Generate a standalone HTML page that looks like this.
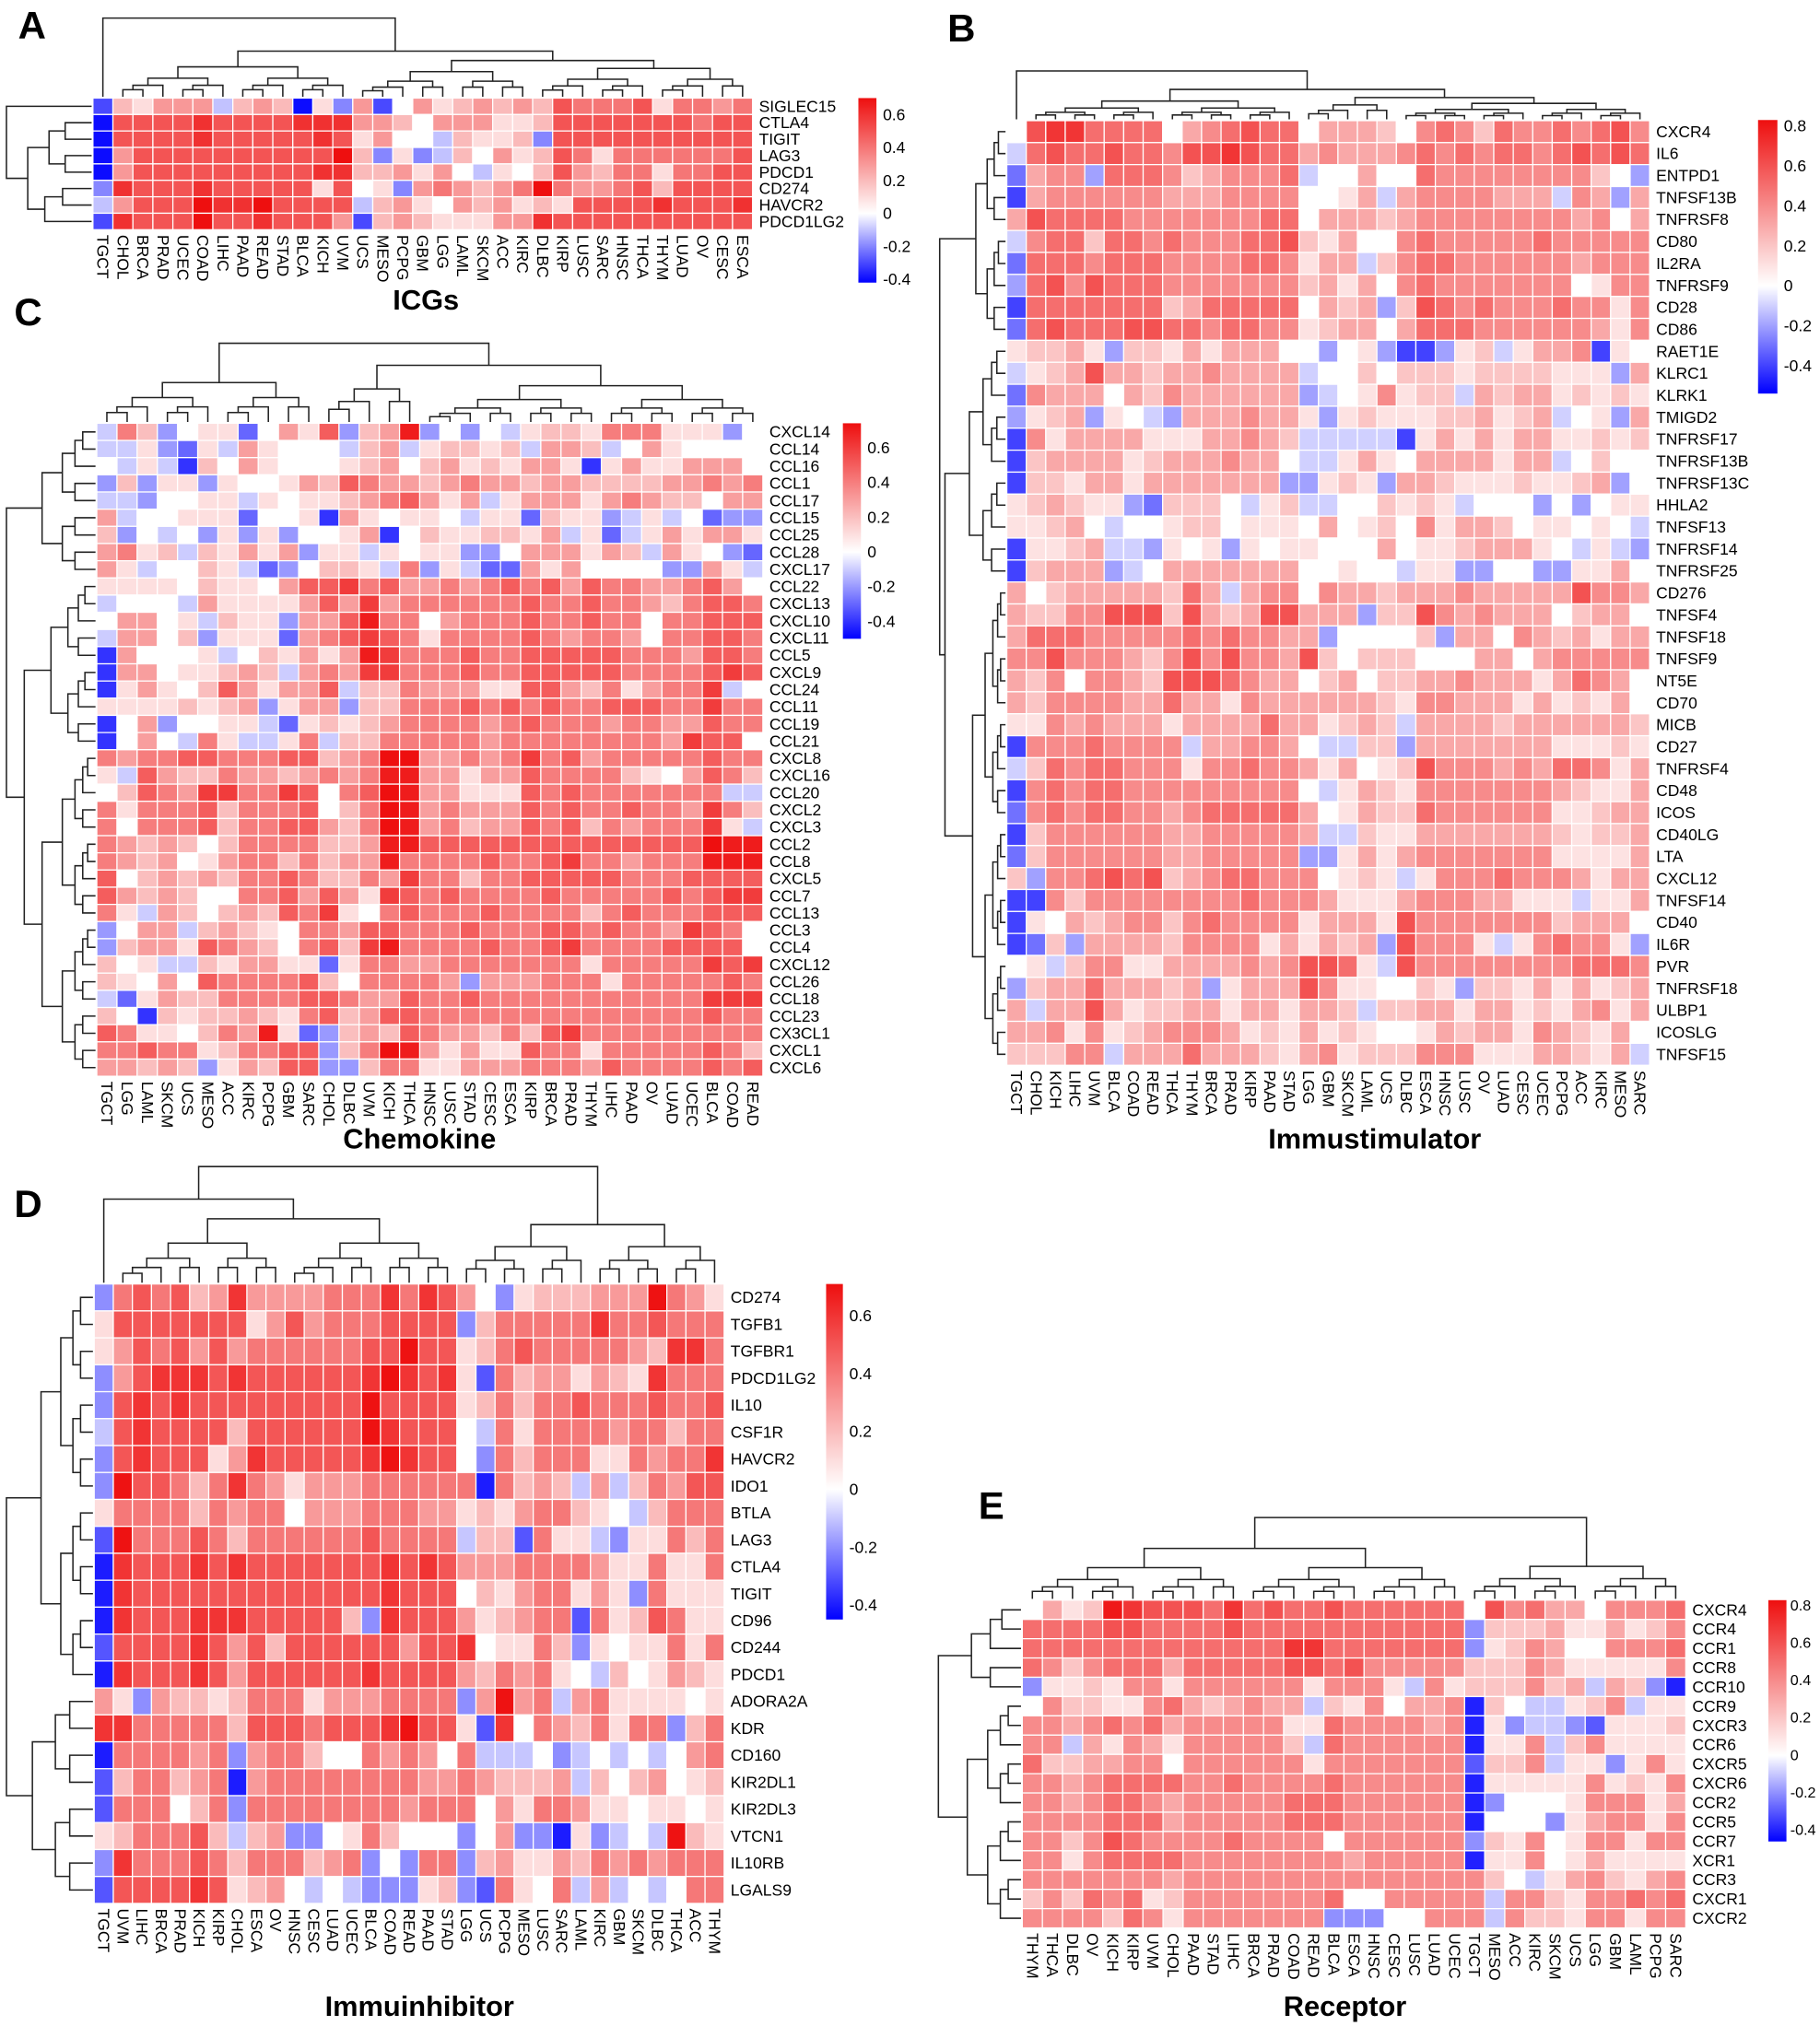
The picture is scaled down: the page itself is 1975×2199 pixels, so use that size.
<!DOCTYPE html>
<html><head><meta charset="utf-8"><style>
html,body{margin:0;padding:0;background:#fff;}
svg{display:block;font-family:"Liberation Sans",Arial,sans-serif;}
</style></head><body>
<svg id="fig" xmlns="http://www.w3.org/2000/svg" width="1975" height="2199" viewBox="0 0 1410 1570" preserveAspectRatio="none">
<rect x="0" y="0" width="1410" height="1570" fill="#fff"/>
<text x="14" y="30" font-size="30" font-weight="bold">A</text>
<text x="734" y="32" font-size="30" font-weight="bold">B</text>
<text x="11" y="252" font-size="30" font-weight="bold">C</text>
<text x="11" y="943" font-size="30" font-weight="bold">D</text>
<text x="758" y="1177" font-size="30" font-weight="bold">E</text>
<text x="330" y="240" font-size="22" font-weight="bold" text-anchor="middle">ICGs</text>
<text x="325" y="890" font-size="22" font-weight="bold" text-anchor="middle">Chemokine</text>
<text x="1065" y="890" font-size="22" font-weight="bold" text-anchor="middle">Immustimulator</text>
<text x="325" y="1562" font-size="22" font-weight="bold" text-anchor="middle">Immuinhibitor</text>
<text x="1042" y="1562" font-size="22" font-weight="bold" text-anchor="middle">Receptor</text>
</svg>
<script>
// value code: a=-0.4 b=-0.3 c=-0.2 d=-0.1 e=0 f=0.1 g=0.2 h=0.3 i=0.4 j=0.5 k=0.6 l=0.7 m=0.8
const colsA = ["TGCT","CHOL","BRCA","PRAD","UCEC","COAD","LIHC","PAAD","READ","STAD","BLCA","KICH","UVM","UCS","MESO","PCPG","GBM","LGG","LAML","SKCM","ACC","KIRC","DLBC","KIRP","LUSC","SARC","HNSC","THCA","THYM","LUAD","OV","CESC","ESCA"];
const rowsA = ["SIGLEC15","CTLA4","TIGIT","LAG3","PDCD1","CD274","HAVCR2","PDCD1LG2"];
const valsA = [
"bgfhhhdghgafchbehfghghgjiiijfiihi",
"ajjjjkjjjjkkkhhgehhhffgjjjjjjjijj",
"ajjjjkjjjjjkjfheedgffgcjjjjjjjjjj",
"ahjjjjjjjjjjlgcfcdgehfgjifiiiiiij",
"ahjjjjjjjjjkkgghfhedfegjhgiifiijj",
"ckjjjkjjjjjfjefchihghimihhijgjjjj",
"dhjjjlkkljjjjdghfehghfgfjjjjkjjjk",
"bkjjjljjkjjjhbghgfffhhkjjjjjjjjjj"];
const ticksA = [0.6,0.4,0.2,0,-0.2,-0.4];

const colsB = ["TGCT","CHOL","KICH","LIHC","UVM","BLCA","COAD","READ","THCA","THYM","BRCA","PRAD","KIRP","PAAD","STAD","LGG","GBM","SKCM","LAML","UCS","DLBC","ESCA","HNSC","LUSC","OV","LUAD","CESC","UCEC","PCPG","ACC","KIRC","MESO","SARC"];
const rowsB = ["CXCR4","IL6","ENTPD1","TNFSF13B","TNFRSF8","CD80","IL2RA","TNFRSF9","CD28","CD86","RAET1E","KLRC1","KLRK1","TMIGD2","TNFRSF17","TNFRSF13B","TNFRSF13C","HHLA2","TNFSF13","TNFRSF14","TNFRSF25","CD276","TNFSF4","TNFSF18","TNFSF9","NT5E","CD70","MICB","CD27","TNFRSF4","CD48","ICOS","CD40LG","LTA","CXCL12","TNFSF14","CD40","IL6R","PVR","TNFRSF18","ULBP1","ICOSLG","TNFSF15"];
const valsB = [
"eklljjjjehijkjjehhhgeijigjiijijki",
"djkjjkjjikklkjjhihhhijijijjijkjkj",
"bhiicjjjighiiijdeeheejiiiiiiiigec",
"ahiiiiiihhhiiiieefhdhiiiihhhdihch",
"hkjjjjiiiiiiijjehhhghiiiiiiiihieh",
"dijjgjjijiiijjkgfheeijiiiiijiiiii",
"bjjjijjjiiiijjifhhdgijjiiiiiihiii",
"cjkikjjjiiiiiiighfheijiiiiiiiefii",
"ajjjjjjjghjjjjjehghcgkjijiiijiifi",
"bjkjjjkkjjijjiifghhehjjjiiiiiihfi",
"fgghfcggfhfhhheecefcaacfgdfhhiaf",
"dfghkhhghhihhhhdeegegggfggggfffch",
"bihhhehgihhhhhhcdefifggdhghhfgfgf",
"cfghcfedchhhihhfcfgfffgghfghdefch",
"aifhhhhfffhhihgdddddafhfhfhhffgfg",
"aghhhhfghhhihheddfhfehhhhfhhdege",
"aggfhhfhhhhhhhccfgfchhgfffgffghc",
"fghgffcbgggedfgddeegfgfdeeececeff",
"ffghedeefggefffehefgeifhhgeffefed",
"affghddcfefcfeffeeeheffghhhfedfdc",
"aghhhcdehhhhhhheefeedffcceeccffhe",
"heghhhhhgjhdhiieihhghhhihhhhhkiih",
"hggiikkkgkhghkkhhhcggkihihhheghhe",
"hjjjiiiiijijiihhceeeegchheihghfhh",
"iikiiihgikikiihkgegggeeehhehiiiii",
"hgieiihgkkkjihhegheggh hihhhfhjih".replace(" ",""),
"hgiiiihhjhhfihhhhhhgfiihhhfhfgfh",
"ffihihhhfhhhhjhhfghgdhhhhghhhhhhg",
"aiiijiiiidhhiiheddggchhhhhhhfffgf",
"dgjijjiiifiijiihfhefgkiiihihjjifh",
"aijijjiiiiiiiiiedfhgfiiiiiiihgffh",
"bijijjiihijjjjjhefhggjiiiiiiffghh",
"agiiiiiihhiiiiihddgffhhhhhhhgfggh",
"bgiiiiiihhiiiiiccfhfhiiiiiiiffffh",
"gciijkjkghijjiiiefgfdfiiijiiihfhh",
"aaigiiiiiiiijiiihfffhiiihhfffdffh",
"afehghiigijiiiifhhhfkiiiiiiighhh",
"abgchhhhgiiiifhfhghckiiifdfijiifc",
"efdgiiffhhhhihikkjfdkiiiiiiiijjji",
"cghhjhhhghcfhhhkiffeegfcggfhfhfgh",
"hdhhkhfgghhfhhfhhgdgghhfhhfgfhifh",
"hhififghiiihfgfhfgfeefhghhfihgfh",
"gggiidhhhjhhhgfhifgggiiifffhhgfhd"];
const ticksB = [0.8,0.6,0.4,0.2,0,-0.2,-0.4];

const colsC = ["TGCT","LGG","LAML","SKCM","UCS","MESO","ACC","KIRC","PCPG","GBM","SARC","CHOL","DLBC","UVM","KICH","THCA","HNSC","LUSC","STAD","CESC","ESCA","KIRP","BRCA","PRAD","THYM","LIHC","PAAD","OV","LUAD","UCEC","BLCA","COAD","READ"];
const rowsC = ["CXCL14","CCL14","CCL16","CCL1","CCL17","CCL15","CCL25","CCL28","CXCL17","CCL22","CXCL13","CXCL10","CXCL11","CCL5","CXCL9","CCL24","CCL11","CCL19","CCL21","CXCL8","CXCL16","CCL20","CXCL2","CXCL3","CCL2","CCL8","CXCL5","CCL7","CCL13","CCL3","CCL4","CXCL12","CCL26","CCL18","CCL23","CX3CL1","CXCL1","CXCL6"];
const valsC = [
"digceffbehfjcghlcecedfggfiiifffce",
"ddfcbfdhfeeedghdfggfgdhhgdehfeeee",
"edfdagehfeeefgheghfgfhhfafhffhhh",
"cgcffcfeefhgjihhghihhghhgggghhihi",
"ddceeffdfeffghijhfhdfhhhfhihggehh",
"hdeefffbeefahfeffedffbgffcdfdebcc",
"gcedecfcfceefhaegffggfhdfbdfhfhhf",
"hifgdgfhfhcffdfeffccehhhfhgdhfecb",
"hfdeegfdbceggfdicfdbbhfheeeecchfde",
"ffffegffehjjkijhhihijijhjiihhijh",
"deeedhffffhjhkhiiiiiijiijiihgijji",
"ehhefdgffchhjliiehiiijiijiieiijjj",
"dhhegcfffbhijkjifiiiijihiiheiijji",
"aheeefdegfhfhlkiiijiijjjjjiiihjji",
"ahheffghgdhihkkiiijiijjjjjiiiijkj",
"afhfegjhfhhjdggihhhffjjhgifhiikde",
"ffffgfghcfhhcggiiijijijiijjjiikii",
"aehceeffdbfgfghiiiihijiiihiihhjii",
"aehedifddfidggiiiiihiiiiiiiihkjj",
"ihiijjiiijjghimmhhihikijhiiiiijii",
"fdjhggihhghihillhhfhhjiiiigfehjig",
"egjihkkiikjeijmlhhfffjijiiiiiiidd",
"ifiiijgiiijegimlhihhhjijiijiihkig",
"ieiiijgiijjhgimlhighhjijgihiiikfd",
"ihghgegiiiigghlljjjjjjjjjjjjjjmll",
"ihghefhiigighhliiiijiijkiihiiilll",
"jeghghgiijiggihkiigiijjjjjiiijjjj",
"jhghgeeiijhjhfkjijiiiijiiiiijijkkk",
"ifdhgeghgjikfeijiiijiiiigijiiijjj",
"cehhdghgfeiihjjiiijiiijjijiihkjie",
"cghhfjihgeijgkliiiijiijkiiiijjjj",
"gefddgfhhffbfiihhiiiiiiifiiiiikjk",
"gfehejiiiijgeiiiihchhhiiifiiiiijii",
"dbfhggiiiijjihhjiijiiiiiiiiiiikkk",
"geagfgghgfijghjjiiiiiiiiiiiiiijii",
"jiffegihlfbcghgjihhgigjkiiiiiiiii",
"iijiifgiijjcgimlhfhffjiifiiiiijig",
"hhghgcfhgjjccgiiffhhhiiihjiiiijij"];
const ticksC = [0.6,0.4,0.2,0,-0.2,-0.4];

const colsD = ["TGCT","UVM","LIHC","BRCA","PRAD","KICH","KIRP","CHOL","ESCA","OV","HNSC","CESC","LUAD","UCEC","BLCA","COAD","READ","PAAD","STAD","LGG","UCS","PCPG","MESO","LUSC","SARC","LAML","KIRC","GBM","SKCM","DLBC","THCA","ACC","THYM"];
const rowsD = ["CD274","TGFB1","TGFBR1","PDCD1LG2","IL10","CSF1R","HAVCR2","IDO1","BTLA","LAG3","CTLA4","TIGIT","CD96","CD244","PDCD1","ADORA2A","KDR","CD160","KIR2DL1","KIR2DL3","VTCN1","IL10RB","LGALS9"];
const valsD = [
"cijijghkhhhhiiikikjhecfggghhhlihf",
"fjjjjjjjfhjhiiijjjjcgiiiiikiijiii",
"fhjijhjhiiiiiijjljjfgijiiiiihgkki",
"chjkkkjkjjjjjjkmkjkfbighhfhgfkiii",
"cjkjkjjjjjjjjjljjjjfgigiijiiijiij",
"djkjjjjgjjjjjjlkjjjedifiiiihiigii",
"cjkjjjfhkjjjjjklkjjecigiiiffihiik",
"cljjigikihfhhhiiiiiiaighgdhdgihjj",
"fiiiigihiiehhhiiihhfgfhiigfedgiii",
"bliiijigiiiiiijiiiidggbiffdcffigi",
"akjjjkjkjjjjjjjkjkjhhhiiiihffiffi",
"akjjjjjjjjjjjjjkjjjegfhiifhfcifffj",
"akjjjkkkjjjjjgckjjjhfghiibifgjiff",
"bjjjjkjhjgjjjjjjhjjkeffigcfeffifi",
"akjjjkjhjjjjjjkjjjjhgihifedgefhgf",
"hfchggfgiiifhhhiiiichlhidhiffffef",
"kkiiiiigjjjijjjkljjfbkeihgifiicgi",
"aiiiihichiigeeihiheidddecdededehi",
"bgiighiahiiiiiiiihhihggghdgeghefg",
"biiiegiciiiiiiiihiiiehfiihffeffef",
"fgiiijgdghccefigeeecehccafcdedlgf",
"ckiiijigiiighiceciicghffhgihihiii",
"bjjjjkjfghededcccfgcbifeidhdedeiif"];
const ticksD = [0.6,0.4,0.2,0,-0.2,-0.4];

const colsE = ["THYM","THCA","DLBC","OV","KICH","KIRP","UVM","CHOL","PAAD","STAD","LIHC","BRCA","PRAD","COAD","READ","BLCA","ESCA","HNSC","CESC","LUSC","LUAD","UCEC","TGCT","MESO","ACC","KIRC","SKCM","UCS","LGG","GBM","LAML","PCPG","SARC"];
const rowsE = ["CXCR4","CCR4","CCR1","CCR8","CCR10","CCR9","CXCR3","CCR6","CXCR5","CXCR6","CCR2","CCR5","CCR7","XCR1","CCR3","CXCR1","CXCR2"];
const valsE = [
"ehfgmlkkkjljkjjkjjjjjjekijhheiiij",
"jjjjkkjjjjkjjjjjjjjjjjcggghffhfgii",
"jjjjjjjjjjjjjlljjjjjjjcfgiheeiiij",
"jigijjjhjjjjjkkjkiiiiigggihfffffi",
"cffgfiifiiiiiifiiifdifgggighdhgca",
"eiggffijhghihhdgfiehhiageddfgidfff",
"iihijijhiiiiiffjiiiihiafcddcbfffg",
"iidhfihfiiiiigdjiiiiiiaffidgifffff",
"jgghhiieiiiiiifiiiiiiibggidffcfif",
"iihijjjjiijiiiijiiiiiiafffffifgfi",
"iihijjihiiiiijjjiiiiiiaceeefiiifh",
"iiiijjjhiiiiijjjiiiiiiaeeecfhiifi",
"iigikjiiiijiiiieiiiiiicgfiefiifii",
"iifijjjjiiiiiiiihiiiiiaffiefhffff",
"iiiiiiihiiiiiiiiiiiiiiigedfhigfhi",
"gigjijfgiiiiiiijeeiiiiidiigfiijij",
"iiiigjifiiiiiiiccceeiiidiggfiifii"];
const ticksE = [0.8,0.6,0.4,0.2,0,-0.2,-0.4];

const SVGNS = "http://www.w3.org/2000/svg";
const fig = document.getElementById("fig");
function mk(tag, parent) { const e = document.createElementNS(SVGNS, tag); parent.appendChild(e); return e; }
function decode(ch) { const c = ch.charCodeAt(0); return (c - 101) / 10; }
function rowValues(str, n) { const out = []; for (let i = 0; i < n; i++) { out.push(i < str.length ? decode(str[i]) : 0); } return out; }
function colorOf(v, vmax, vmin) {
  if (v >= 0) { const t = Math.min(v / vmax, 1); return "rgb(" + Math.round(255 - 17 * t) + "," + Math.round(255 - 240 * t) + "," + Math.round(255 - 240 * t) + ")"; }
  const t = Math.min(v / vmin, 1); return "rgb(" + Math.round(255 - 255 * t) + "," + Math.round(255 - 255 * t) + ",255)";
}

function drawTree(g, spec, pos, base, top, horizontal, name) {
  function walk(node) {
    if (!Array.isArray(node[1])) { return range(node[0], node[1], node[2]); }
    const a = walk(node[1]), b = walk(node[2]);
    link(a, b, node[0]); return { p: (a.p + b.p) / 2, h: node[0] };
  }
  function range(lo, hi, h) {
    if (lo === hi) return { p: pos(lo), h: 0 };
    const mid = Math.floor((lo + hi) / 2);
    const a = range(lo, mid, h * 0.62), b = range(mid + 1, hi, h * 0.62);
    link(a, b, h); return { p: (a.p + b.p) / 2, h: h };
  }
  function coord(p, h) { const d = base + (top - base) * h; return horizontal ? [d, p] : [p, d]; }
  function link(a, b, h) {
    const pts = [coord(a.p, a.h), coord(a.p, h), coord(b.p, h), coord(b.p, b.h)];
    const pl = mk("polyline", g);
    
    
    pl.setAttribute("points", pts.map(q => q[0].toFixed(1) + "," + q[1].toFixed(1)).join(" "));
    pl.setAttribute("fill", "none"); pl.setAttribute("stroke", "#222"); pl.setAttribute("stroke-width", "1.1");
  }
  walk(spec);
}

function drawPanel(id, L, cols, rows, vals, ticks) {
  const g = mk("g", fig);
  
  
  const nc = cols.length, nr = rows.length;
  const cw = (L.x1 - L.x0) / nc, rh = (L.y1 - L.y0) / nr;
  const xs = i => L.x0 + (i + 0.5) * cw, ys = j => L.y0 + (j + 0.5) * rh;
  for (let j = 0; j < nr; j++) {
    const rv = rowValues(vals[j], nc);
    for (let i = 0; i < nc; i++) {
      const r = mk("rect", g);
      
      
      r.setAttribute("x", (L.x0 + i * cw).toFixed(2)); r.setAttribute("y", (L.y0 + j * rh).toFixed(2));
      r.setAttribute("width", cw.toFixed(2)); r.setAttribute("height", rh.toFixed(2));
      r.setAttribute("fill", colorOf(rv[i], L.vmax, L.vmin));
      r.setAttribute("stroke", "#fff"); r.setAttribute("stroke-width", "0.9");
    }
    const t = mk("text", g);
    
    
    t.setAttribute("x", L.x1 + 5); t.setAttribute("y", ys(j)); t.setAttribute("dominant-baseline", "central");
    t.setAttribute("font-size", L.fs); t.textContent = rows[j];
  }
  for (let i = 0; i < nc; i++) {
    const t = mk("text", g);
    
    
    t.setAttribute("transform", "translate(" + xs(i).toFixed(2) + "," + (L.y1 + 4) + ") rotate(90)");
    t.setAttribute("dominant-baseline", "central"); t.setAttribute("font-size", L.fs); t.textContent = cols[i];
  }
  drawTree(g, L.ctree, xs, L.y0 - 1, L.ctop, false, id + "-col-dendrogram");
  drawTree(g, L.rtree, ys, L.x0 - 1, L.rleft, true, id + "-row-dendrogram");
  const gid = "grad-" + id;
  const defs = mk("defs", g);
  const lg = mk("linearGradient", defs);
  lg.setAttribute("id", gid); lg.setAttribute("x1", "0"); lg.setAttribute("y1", "0"); lg.setAttribute("x2", "0"); lg.setAttribute("y2", "1");
  const zf = L.vmax / (L.vmax - L.vmin);
  [[0, colorOf(L.vmax, L.vmax, L.vmin)], [zf, "#fff"], [1, colorOf(L.vmin, L.vmax, L.vmin)]].forEach(s => {
    const st = mk("stop", lg); st.setAttribute("offset", s[0]); st.setAttribute("stop-color", s[1]);
  });
  const cb = mk("rect", g);
  
  
  cb.setAttribute("x", L.cbx); cb.setAttribute("y", L.cby0); cb.setAttribute("width", L.cbw); cb.setAttribute("height", L.cby1 - L.cby0);
  cb.setAttribute("fill", "url(#" + gid + ")");
  const vy = v => L.cby0 + (L.vmax - v) / (L.vmax - L.vmin) * (L.cby1 - L.cby0);
  ticks.forEach(v => {
    const t = mk("text", g);
    
    
    t.setAttribute("x", L.cbx + L.cbw + (L.tgap || 5)); t.setAttribute("y", vy(v)); t.setAttribute("dominant-baseline", "central");
    t.setAttribute("font-size", L.tfs || 12.5); t.textContent = (v === 0 ? "0" : String(v));
  });
}

drawPanel("icgs", {x0:72,x1:583,y0:76,y1:178,ctop:14,rleft:5,fs:12.5,vmax:0.70,vmin:-0.42,cbx:665,cbw:14,cby0:76,cby1:219,
  ctree:[1,[0,0,0],[0.58,[1,12,0.38],[0.46,[13,21,0.32],[22,32,0.36]]]],
  rtree:[1,[0,0,0],[0.75,[1,4,0.5],[5,7,0.55]]]}, colsA, rowsA, valsA, ticksA);
drawPanel("immustimulator", {x0:780,x1:1278,y0:93.5,y1:825.5,ctop:55,rleft:728,fs:12.5,vmax:0.83,vmin:-0.54,cbx:1362,cbw:15,cby0:93,cby1:305,
  ctree:[1,[0,0,0],[0.62,[1,14,0.38],[0.45,[15,19,0.3],[20,32,0.33]]]],
  rtree:[1,[0,9,0.45],[0.92,[10,20,0.55],[21,42,0.5]]]}, colsB, rowsB, valsB, ticksB);
drawPanel("chemokine", {x0:75,x1:591,y0:328,y1:834,ctop:266,rleft:5,fs:12.5,vmax:0.74,vmin:-0.5,cbx:653,cbw:14,cby0:328,cby1:495,
  ctree:[1,[0,10,0.5],[0.72,[11,15,0.42],[16,32,0.46]]],
  rtree:[1,[0,8,0.6],[0.8,[9,18,0.5],[19,37,0.6]]]}, colsC, rowsC, valsC, ticksC);
drawPanel("immuinhibitor", {x0:73,x1:561,y0:995,y1:1475,ctop:904,rleft:5,fs:12.5,vmax:0.71,vmin:-0.45,cbx:640,cbw:13,cby0:995,cby1:1255,
  ctree:[1,[0.72,[0,0,0],[1,18,0.55]],[19,32,0.5]],
  rtree:[1,[0,14,0.6],[15,22,0.7]]}, colsD, rowsD, valsD, ticksD);
drawPanel("receptor", {x0:792,x1:1306,y0:1240,y1:1494,ctop:1176,rleft:727,fs:12.5,vmax:0.83,vmin:-0.46,cbx:1370,cbw:14,cby0:1240,cby1:1427,tgap:3,tfs:11.5,
  ctree:[1,[0,21,0.62],[22,32,0.4]],
  rtree:[1,[0,4,0.6],[5,16,0.65]]}, colsE, rowsE, valsE, ticksE);
</script>
</body></html>
